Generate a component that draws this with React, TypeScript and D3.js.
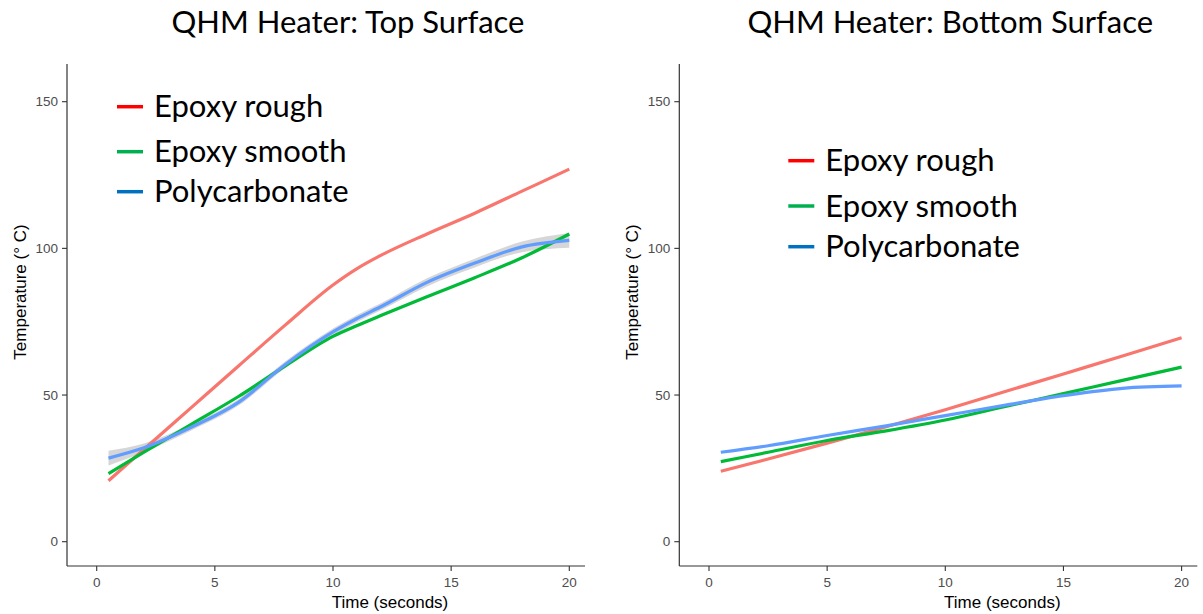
import * as d3 from "d3";
import React, { useEffect, useRef } from "react";

// ---- data ----
const seriesNames = ["Epoxy rough", "Epoxy smooth", "Polycarbonate"];
const xTicks = [0, 5, 10, 15, 20];
const yTicks = [0, 50, 100, 150];

const topTimes = [0.5, 2, 4, 6, 8, 10, 11, 12, 14, 16, 18, 20];
const topRough = [20.8, 31.5, 45.7, 59.9, 74, 87.5, 93, 97.5, 105, 112, 119.5, 127];
const topSmooth = [23.2, 30.5, 40, 49.5, 60, 70, 73.6, 77, 83.6, 90, 96.8, 104.9];
const topPoly = [28.5, 32, 39, 47.5, 60.5, 71.5, 76, 80, 88.5, 95, 100.5, 102.7];
const topPolyBand = [2.5, 1.5, 1.1, 1.1, 1.1, 1.2, 1.2, 1.2, 1.4, 1.5, 1.8, 2.5];

const bottomTimes = [0.5, 2.5, 5, 7.5, 10, 12.5, 15, 17.5, 20];
const bottomRough = [24, 28.2, 33.6, 39.2, 45, 51.1, 57.2, 63.3, 69.5];
const bottomSmooth = [27.3, 30.5, 34.5, 37.8, 41.5, 46, 50.5, 55, 59.5];
const bottomPoly = [30.5, 32.7, 36.2, 39.5, 43, 46.5, 49.8, 52.3, 53.1];

const lineColors = ["#F8766D", "#00BA38", "#619CFF"];
const legendColors = ["#FF0000", "#00B050", "#0070C0"];

interface PanelProps {
  offsetX: number;
  title: string;
  titleX: number;
  times: number[];
  values: number[][];
  band?: number[];
  legendX: number;
  legendRows: number[];
}

function Panel({ offsetX, title, titleX, times, values, band, legendX, legendRows }: PanelProps) {
  const ref = useRef<SVGGElement | null>(null);

  useEffect(() => {
    if (!ref.current) return;
    const g = d3.select(ref.current);
    g.selectAll("*").remove();

    const axisLeft = 67;
    const axisBottom = 566;
    const x = d3.scaleLinear().domain([0, 20]).range([96.7, 569.3]);
    const y = d3.scaleLinear().domain([0, 150]).range([541.7, 101.7]);

    // title (slide text box)
    g.append("text")
      .attr("x", titleX)
      .attr("y", 33)
      .attr("text-anchor", "middle")
      .style("font-family", "Lato, 'Open Sans', sans-serif")
      .style("font-size", "31px")
      .attr("fill", "#000")
      .text(title);

    // confidence band (grey)
    if (band) {
      const area = d3.area<number>()
        .x((_, i) => x(times[i]))
        .y0((d, i) => y(values[2][i] - d))
        .y1((d, i) => y(values[2][i] + d))
        .curve(d3.curveMonotoneX);
      g.append("path")
        .attr("d", area(band) as string)
        .attr("fill", "#999999")
        .attr("opacity", 0.4);
    }

    const line = d3.line<number>()
      .x((_, i) => x(times[i]))
      .y(d => y(d))
      .curve(d3.curveMonotoneX);

    values.forEach((vals, k) => {
      g.append("path")
        .attr("d", line(vals) as string)
        .attr("fill", "none")
        .attr("stroke", lineColors[k])
        .attr("stroke-width", 3.2);
    });

    // axes (theme_classic look)
    g.append("line")
      .attr("x1", axisLeft).attr("x2", axisLeft)
      .attr("y1", 64).attr("y2", axisBottom)
      .attr("stroke", "#333").attr("stroke-width", 1.2);
    g.append("line")
      .attr("x1", axisLeft).attr("x2", 585)
      .attr("y1", axisBottom).attr("y2", axisBottom)
      .attr("stroke", "#333").attr("stroke-width", 1.2);

    const tickFont = "'Liberation Sans', Arial, sans-serif";

    yTicks.forEach(t => {
      g.append("line")
        .attr("x1", axisLeft - 5).attr("x2", axisLeft)
        .attr("y1", y(t)).attr("y2", y(t))
        .attr("stroke", "#333").attr("stroke-width", 1.1);
      g.append("text")
        .attr("x", axisLeft - 9)
        .attr("y", y(t))
        .attr("dy", "0.35em")
        .attr("text-anchor", "end")
        .style("font-family", tickFont)
        .style("font-size", "13.5px")
        .attr("fill", "#4D4D4D")
        .text(t);
    });

    xTicks.forEach(t => {
      g.append("line")
        .attr("x1", x(t)).attr("x2", x(t))
        .attr("y1", axisBottom).attr("y2", axisBottom + 5)
        .attr("stroke", "#333").attr("stroke-width", 1.1);
      g.append("text")
        .attr("x", x(t))
        .attr("y", axisBottom + 21)
        .attr("text-anchor", "middle")
        .style("font-family", tickFont)
        .style("font-size", "13.5px")
        .attr("fill", "#4D4D4D")
        .text(t);
    });

    g.append("text")
      .attr("x", 390)
      .attr("y", 608)
      .attr("text-anchor", "middle")
      .style("font-family", tickFont)
      .style("font-size", "17px")
      .attr("fill", "#000")
      .text("Time (seconds)");

    g.append("text")
      .attr("transform", `translate(26, 292) rotate(-90)`)
      .attr("text-anchor", "middle")
      .style("font-family", tickFont)
      .style("font-size", "17px")
      .attr("fill", "#000")
      .text("Temperature (° C)");

    // legend (slide text box)
    seriesNames.forEach((name, k) => {
      g.append("line")
        .attr("x1", legendX).attr("x2", legendX + 26)
        .attr("y1", legendRows[k]).attr("y2", legendRows[k])
        .attr("stroke", legendColors[k])
        .attr("stroke-width", 3.5);
      g.append("text")
        .attr("x", legendX + 37)
        .attr("y", legendRows[k] + 10.5)
        .style("font-family", "Lato, 'Open Sans', sans-serif")
        .style("font-size", "31px")
        .attr("fill", "#000")
        .text(name);
    });
  }, [offsetX, title, titleX, times, values, band, legendX, legendRows]);

  return <g ref={ref} transform={`translate(${offsetX}, 0)`} />;
}

export default function App() {
  return (
    <svg
      width={1203}
      height={614}
      style={{ position: "absolute", left: 0, top: 0, background: "#fff" }}
    >
      <rect width={1203} height={614} fill="#fff" />
      <Panel
        offsetX={0}
        title="QHM Heater: Top Surface"
        titleX={348}
        times={topTimes}
        values={[topRough, topSmooth, topPoly]}
        band={topPolyBand}
        legendX={117}
        legendRows={[106.7, 151.7, 191.7]}
      />
      <Panel
        offsetX={612.3}
        title="QHM Heater: Bottom Surface"
        titleX={338}
        times={bottomTimes}
        values={[bottomRough, bottomSmooth, bottomPoly]}
        legendX={176}
        legendRows={[160.7, 206, 246.7]}
      />
    </svg>
  );
}
